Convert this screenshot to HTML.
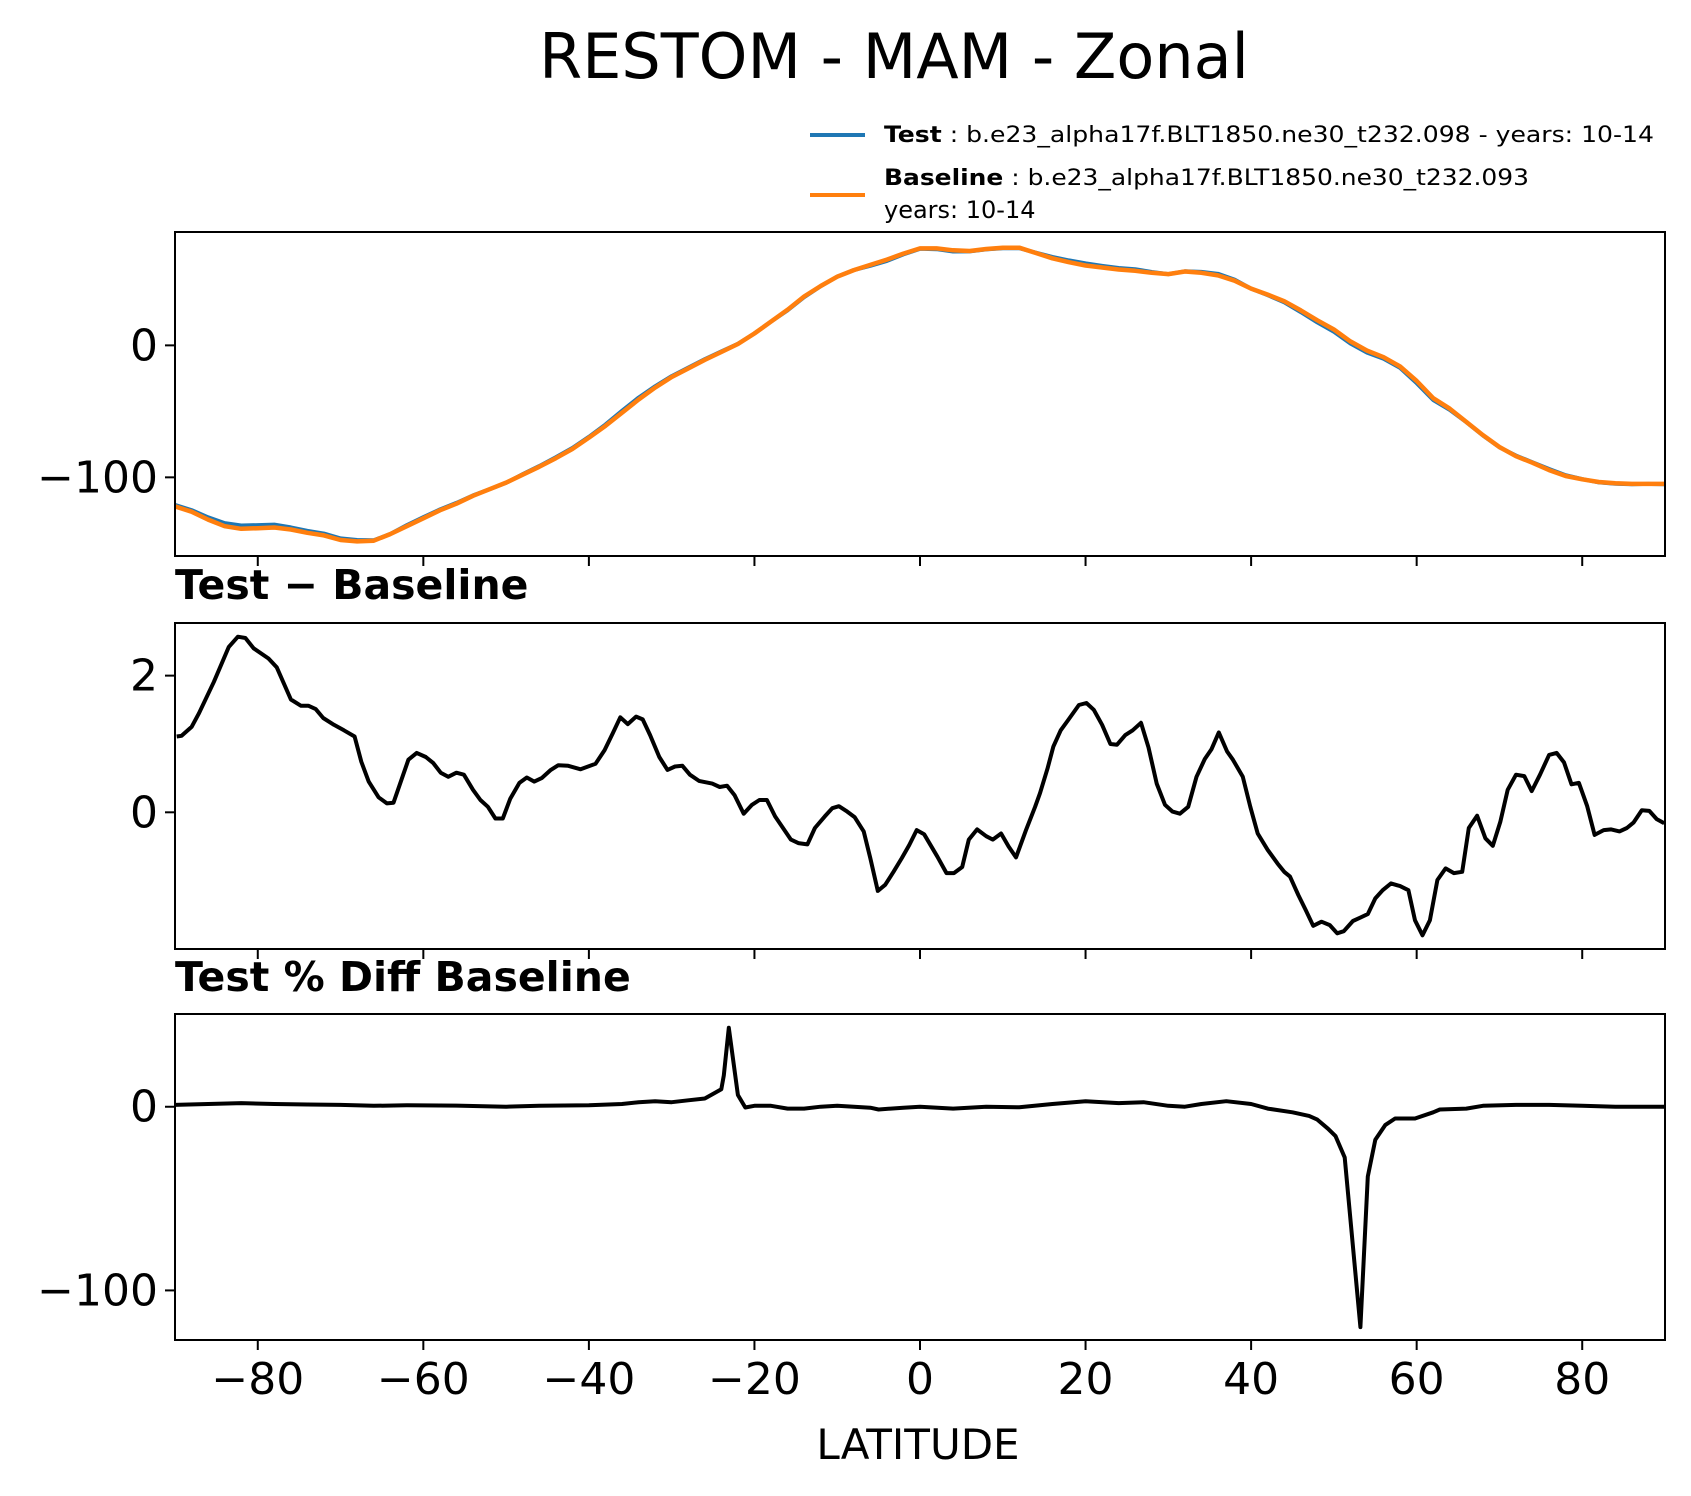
<!DOCTYPE html>
<html><head><meta charset="utf-8"><style>
html,body{margin:0;padding:0;background:#fff}
svg{display:block;font-family:"DejaVu Sans","Liberation Sans",sans-serif}
</style></head><body>
<svg id="chart" width="1691" height="1496" viewBox="0 0 1691 1496" xmlns="http://www.w3.org/2000/svg">
<rect width="1691" height="1496" fill="#fff"/>
<text x="894" y="78" font-size="62" text-anchor="middle">RESTOM - MAM - Zonal</text>
<g>
<line x1="810" y1="135" x2="865" y2="135" stroke="#1f77b4" stroke-width="4"/>
<text x="884" y="142" font-size="22" textLength="770" lengthAdjust="spacingAndGlyphs"><tspan font-weight="bold">Test</tspan> : b.e23_alpha17f.BLT1850.ne30_t232.098 - years: 10-14</text>
<line x1="810" y1="195" x2="865" y2="195" stroke="#ff7f0e" stroke-width="4"/>
<text x="884" y="185" font-size="22" textLength="645" lengthAdjust="spacingAndGlyphs"><tspan font-weight="bold">Baseline</tspan> : b.e23_alpha17f.BLT1850.ne30_t232.093</text>
<text x="884" y="218" font-size="24">years: 10-14</text>
</g>
<text x="175" y="599" font-size="41" font-weight="bold">Test − Baseline</text>
<text x="175" y="991" font-size="41" font-weight="bold">Test % Diff Baseline</text>
<text x="918" y="1459" font-size="42" text-anchor="middle">LATITUDE</text>
</svg>
<script>
const lat1 = [-90,-88,-86,-84,-82,-80,-78,-76,-74,-72,-70,-68,-66,-64,-62,-60,-58,-56,-54,-52,-50,-48,-46,-44,-42,-40,-38,-36,-34,-32,-30,-28,-26,-24,-22,-20,-18,-16,-14,-12,-10,-8,-6,-4,-2,0,2,4,6,8,10,12,14,16,18,20,22,24,26,28,30,32,34,36,38,40,42,44,46,48,50,52,54,56,58,60,62,64,66,68,70,72,74,76,78,80,82,84,86,88,90];
const baselineVals = [-122,-126,-132,-137,-139,-138.5,-138,-139.5,-142,-144,-147.5,-148.5,-148,-143,-137,-131,-125,-120,-114,-109,-104,-98,-92,-85.5,-78.5,-70,-61,-51,-41,-32,-24,-17.5,-11,-5,1,9,18,27,37,45,52,57,61,65,69.5,73.5,73.5,72,71.5,73,74,74,70,66,63,60.5,59,57.5,56.5,55,54,56,55,53,49,43,38.5,33.5,26.5,19,12,3,-4,-9,-16,-27,-40,-48,-58,-68,-77,-84,-89,-94.5,-99,-101.5,-103.5,-104.5,-105,-105,-105];
const testVals = [-120.9,-124.8,-130.3,-134.7,-136.5,-136.2,-135.8,-137.9,-140.5,-142.6,-146.3,-147.5,-147.7,-142.9,-136.3,-130.2,-124.4,-119.4,-113.7,-109,-104.1,-97.6,-91.5,-84.8,-77.8,-69.3,-60,-49.6,-39.6,-31,-23.3,-16.9,-10.5,-4.6,1.2,9.1,18,26.6,36.5,44.8,52.1,57,60.3,64,68.9,73.2,72.9,71.1,71.2,72.7,73.6,73.6,70.2,67,64.4,62.1,60.3,58.6,57.7,55.6,54,56.1,55.7,54.2,49.8,43,38,32.6,25.2,17.4,10.3,1.4,-5.5,-10.1,-17.1,-28.7,-41.4,-48.9,-58.2,-68.3,-77.2,-83.5,-88.6,-93.7,-98.4,-101.3,-103.8,-104.8,-105.2,-105,-105.2];
const latDiff = [-89.8,-89.2,-88,-87.1,-85.3,-83.5,-82.4,-81.5,-80.5,-78.7,-77.7,-76,-74.8,-73.9,-73,-72.1,-70.8,-69.6,-68.3,-67.5,-66.6,-65.4,-64.4,-63.6,-61.8,-60.8,-59.7,-58.8,-57.9,-57,-56,-55.1,-54,-53.1,-52.2,-51.3,-50.4,-49.5,-48.4,-47.5,-46.6,-45.7,-44.6,-43.7,-42.5,-41,-39.2,-38.1,-37.1,-36.2,-35.3,-34.3,-33.5,-32.6,-31.5,-30.5,-29.6,-28.7,-27.8,-26.7,-25.1,-24.2,-23.3,-22.4,-21.3,-20.3,-19.4,-18.5,-17.5,-15.6,-14.7,-13.6,-12.7,-11.5,-10.6,-9.8,-8.8,-7.9,-6.8,-6,-5.1,-4.2,-3.2,-2.2,-1.3,-0.4,0.5,2.1,3.2,4.1,5.1,5.9,6.9,8,8.8,9.8,10.7,11.6,12.8,13.9,14.5,15.4,16.1,17,17.9,19.2,20.1,21,22,23,23.8,24.8,25.7,26.7,27.6,28.6,29.6,30.5,31.4,32.4,33.4,34.4,35.2,36.1,37.1,37.8,39,39.9,40.8,42,43.2,44,44.7,45.7,46.6,47.5,48.5,49.5,50.4,51.2,52.3,53.2,54.1,55,55.9,56.9,58,59,59.8,60.7,61.6,62.5,63.5,64.5,65.5,66.3,67.3,68.3,69.2,70.1,71,72,73,73.9,74.9,76,76.9,77.8,78.7,79.6,80.6,81.5,82.6,83.5,84.5,85.4,86.2,87.2,88.1,89,89.9];
const diffVals = [1.11,1.12,1.25,1.45,1.91,2.42,2.57,2.55,2.40,2.25,2.12,1.65,1.56,1.56,1.51,1.38,1.28,1.20,1.11,0.74,0.45,0.22,0.13,0.14,0.77,0.87,0.81,0.72,0.58,0.52,0.58,0.55,0.33,0.18,0.08,-0.09,-0.09,0.20,0.43,0.51,0.45,0.50,0.62,0.69,0.68,0.63,0.71,0.91,1.16,1.39,1.29,1.40,1.36,1.13,0.81,0.62,0.67,0.68,0.55,0.46,0.42,0.37,0.39,0.25,-0.02,0.11,0.18,0.18,-0.06,-0.40,-0.45,-0.47,-0.23,-0.06,0.06,0.09,0.01,-0.07,-0.28,-0.67,-1.15,-1.06,-0.87,-0.67,-0.48,-0.26,-0.32,-0.65,-0.89,-0.89,-0.80,-0.40,-0.25,-0.35,-0.40,-0.31,-0.50,-0.66,-0.26,0.08,0.28,0.64,0.96,1.20,1.35,1.57,1.60,1.50,1.28,1.00,0.99,1.13,1.20,1.31,0.95,0.42,0.11,0.01,-0.02,0.08,0.52,0.78,0.92,1.17,0.89,0.77,0.52,0.08,-0.31,-0.55,-0.75,-0.87,-0.94,-1.21,-1.43,-1.66,-1.60,-1.65,-1.77,-1.74,-1.59,-1.54,-1.49,-1.26,-1.14,-1.04,-1.08,-1.14,-1.58,-1.80,-1.58,-0.99,-0.82,-0.89,-0.87,-0.23,-0.05,-0.38,-0.49,-0.14,0.33,0.55,0.53,0.31,0.55,0.84,0.87,0.73,0.41,0.43,0.09,-0.33,-0.26,-0.25,-0.28,-0.23,-0.15,0.03,0.02,-0.10,-0.16];
const latPct = [-90,-86,-82,-78,-74,-70,-66,-62,-56,-50,-46,-40,-36,-34,-32,-30,-28,-26,-25,-24,-23.7,-23.1,-22,-21.1,-20,-18,-16,-14,-12,-10,-8,-6,-5,-2,0,4,8,12,16,20,24,27,30,32,34,37,40,42,45,47,48,49.3,50.2,51.3,53.2,54.1,55,56.2,57.4,59.8,62,62.8,66,68,72,76,80,84,90];
const pctVals = [1,1.5,2,1.5,1.2,1,0.5,0.8,0.6,0,0.5,0.8,1.5,2.5,3,2.5,3.5,4.5,7,9.5,17,43,6.4,-0.4,0.5,0.5,-1,-1,0,0.5,0,-0.5,-1.5,-0.5,0,-1,0,-0.3,1.5,3,2,2.5,0.5,0,1.5,3,1.5,-1,-3,-5,-7,-12,-16,-27.6,-120,-38,-18,-10,-6.4,-6.4,-3,-1.5,-1,0.5,1,1,0.5,0,0];
const xTicks = [-80,-60,-40,-20,0,20,40,60,80];
const xTickLabels = ["−80","−60","−40","−20","0","20","40","60","80"];
const p1Ticks = [0,-100], p1Labels = ["0","−100"];
const p2Ticks = [2,0], p2Labels = ["2","0"];
const p3Ticks = [0,-100], p3Labels = ["0","−100"];

const NS = "http://www.w3.org/2000/svg";
const svg = document.getElementById("chart");
const X0 = 175, X1 = 1665;
function xs(v){ return X0 + (v + 90) / 180 * (X1 - X0); }
function mk(tag, attrs, parent){ const e = document.createElementNS(NS, tag); for (const k in attrs) e.setAttribute(k, attrs[k]); (parent||svg).appendChild(e); return e; }

function panel(name, top, bot, ymin, ymax, ticks, labels, showXLabels){
  const ys = v => bot - (v - ymin) / (ymax - ymin) * (bot - top);
  const g = mk("g", {});
  
  
  const clipId = name + "-clip";
  const cp = mk("clipPath", {id: clipId}, g);
  mk("rect", {x: X0, y: top, width: X1 - X0, height: bot - top}, cp);
  const plot = mk("g", {"clip-path": "url(#" + clipId + ")"}, g);
  
  
  xTicks.forEach((t, i) => {
    const tk = mk("line", {x1: xs(t), x2: xs(t), y1: bot, y2: bot + 10, stroke: "#000", "stroke-width": 2}, g);
    
    
    if (showXLabels) {
      const tl = mk("text", {x: xs(t), y: bot + 54, "font-size": 44, "text-anchor": "middle"}, g);
      tl.textContent = xTickLabels[i];
      
      
    }
  });
  ticks.forEach((t, i) => {
    const tk = mk("line", {x1: X0 - 10, x2: X0, y1: ys(t), y2: ys(t), stroke: "#000", "stroke-width": 2}, g);
    
    
    const tl = mk("text", {x: X0 - 17, y: ys(t) + 15, "font-size": 44, "text-anchor": "end"}, g);
    tl.textContent = labels[i];
    
    
  });
  return {plot, ys, g, top, bot};
}
function line(p, lats, vals, color, w, name){
  const pts = lats.map((l, i) => xs(l).toFixed(1) + "," + p.ys(vals[i]).toFixed(1)).join(" ");
  const pl = mk("polyline", {points: pts, fill: "none", stroke: color, "stroke-width": w, "stroke-linejoin": "round"}, p.plot);
  
  
}
function frame(p, name){
  const r = mk("rect", {x: X0, y: p.top, width: X1 - X0, height: p.bot - p.top, fill: "none", stroke: "#000", "stroke-width": 2}, p.g);
  
  
}

const p1 = panel("zonal-mean", 232, 556, -159.6, 85.9, p1Ticks, p1Labels, false);
line(p1, lat1, testVals, "#1f77b4", 4, "test-line");
line(p1, lat1, baselineVals, "#ff7f0e", 4.5, "baseline-line");
frame(p1, "zonal-mean");
const p2 = panel("difference", 623, 949, -2.0, 2.77, p2Ticks, p2Labels, false);
line(p2, latDiff, diffVals, "#000", 4, "difference-line");
frame(p2, "difference");
const p3 = panel("percent-diff", 1014, 1340, -127, 50.5, p3Ticks, p3Labels, true);
line(p3, latPct, pctVals, "#000", 4, "percent-diff-line");
frame(p3, "percent-diff");
</script>
</body></html>
